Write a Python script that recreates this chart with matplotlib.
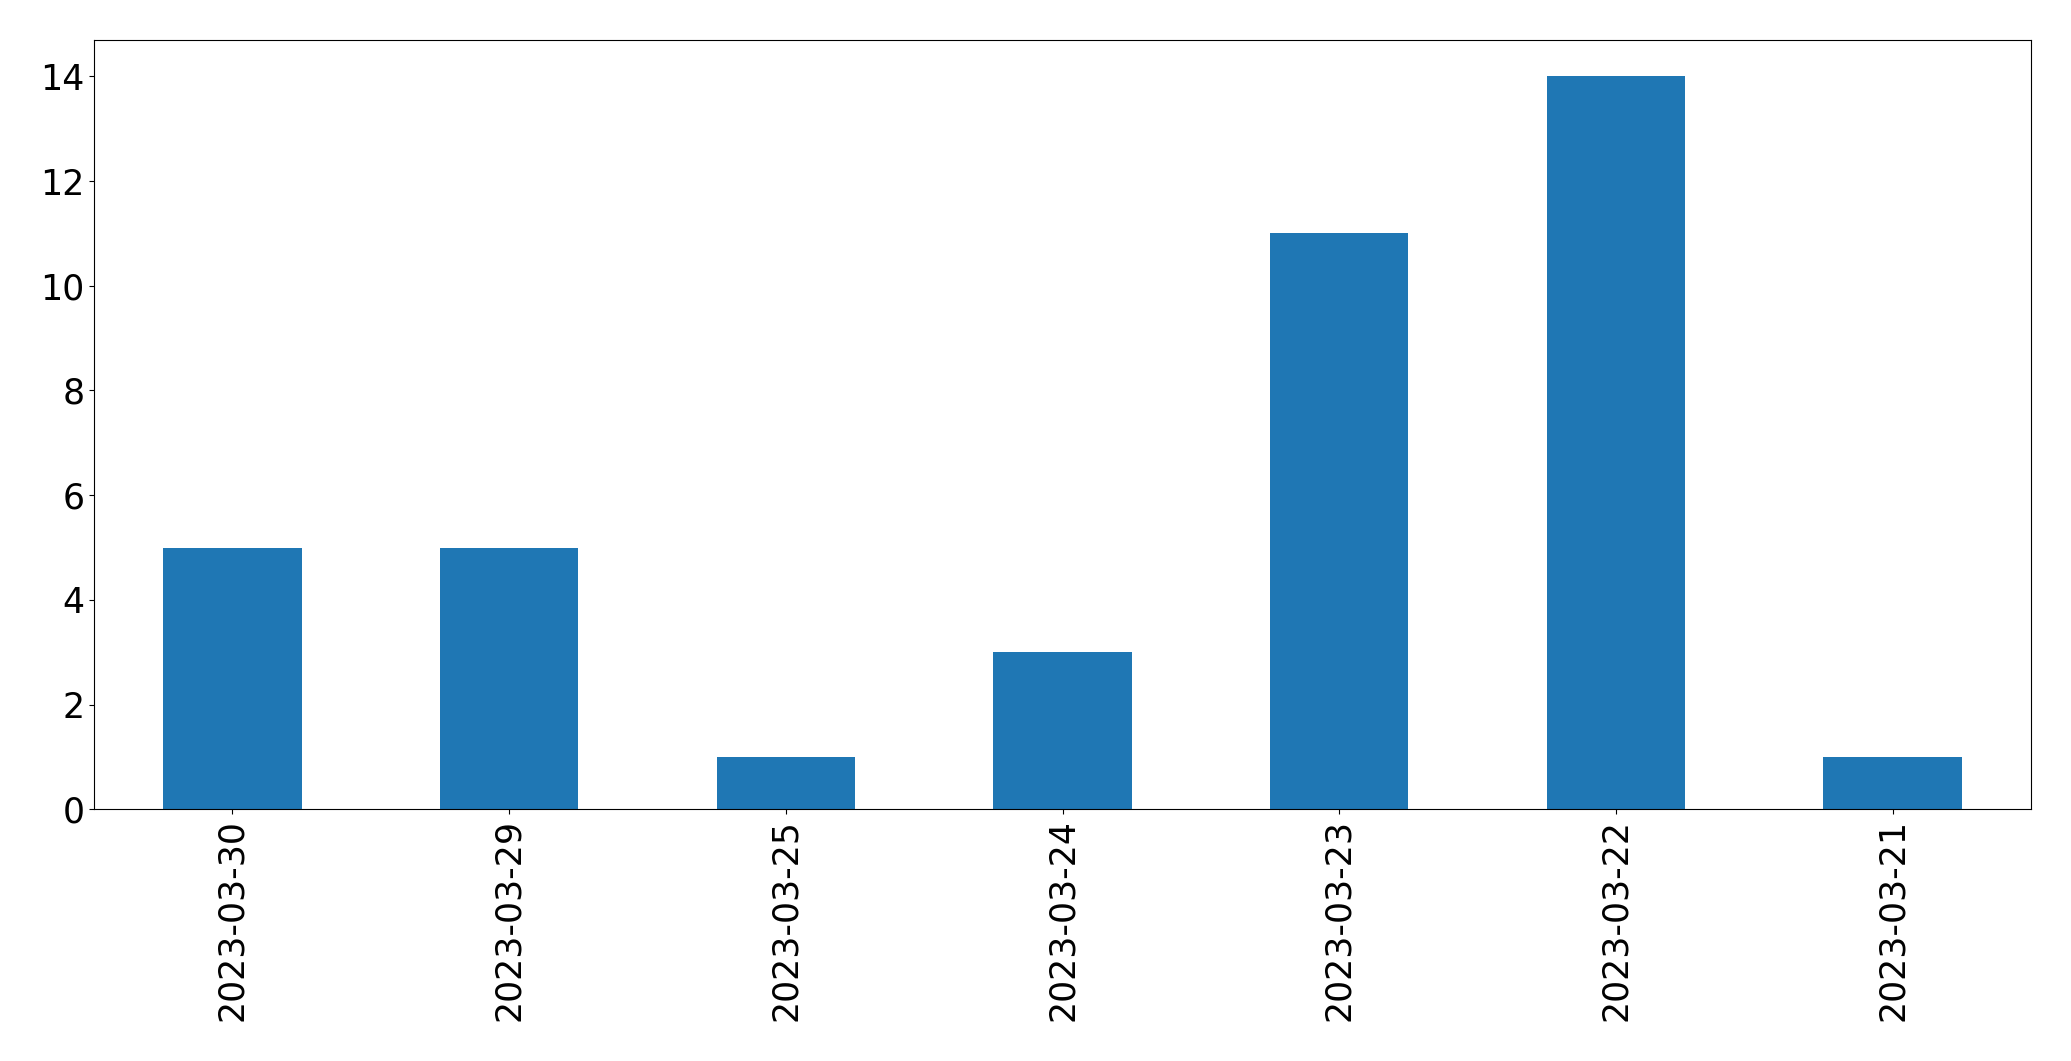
import matplotlib
matplotlib.use("Agg")
import matplotlib.pyplot as plt

# daily counts, newest first (as in the source)
dates = ["2023-03-30", "2023-03-29", "2023-03-25", "2023-03-24",
         "2023-03-23", "2023-03-22", "2023-03-21"]
counts = [5, 5, 1, 3, 11, 14, 1]

fig, ax = plt.subplots(figsize=(20.71, 10.61), dpi=100)
fig.subplots_adjust(left=0.0454, right=0.9807, top=0.9626, bottom=0.2372)

x = range(len(dates))
ax.bar(x, counts, width=0.5, color="#1f77b4")
ax.set_xlim(-0.5, len(dates) - 0.5)
ax.set_xticks(list(x))
ax.set_xticklabels(dates, rotation=90)
ax.tick_params(axis="both", labelsize=25)

fig.savefig("out.png", dpi=100)
